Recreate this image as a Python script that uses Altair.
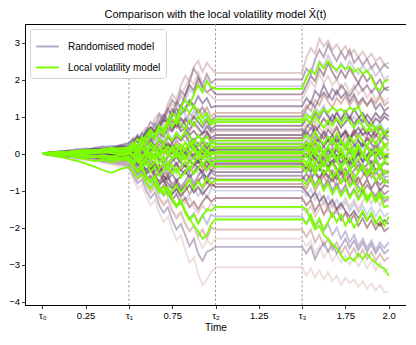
import altair as alt
import pandas as pd

# time grids (years)
T_A = [0.0, 0.05, 0.1, 0.15, 0.2, 0.25, 0.3, 0.35, 0.4, 0.45, 0.5]
T_B = [0.525, 0.55, 0.575, 0.6, 0.625, 0.65, 0.675, 0.7, 0.725, 0.75,
       0.775, 0.8, 0.825, 0.85, 0.875, 0.9, 0.925, 0.95, 0.975, 1.0]
T_FROZEN = 1.5
T_C = [1.525, 1.55, 1.575, 1.6, 1.625, 1.65, 1.675, 1.7, 1.725, 1.75,
       1.775, 1.8, 1.825, 1.85, 1.875, 1.9, 1.925, 1.95, 1.975, 2.0]
TAU = [0.5, 1.0, 1.5]
X_TICKS = [0, 0.25, 0.5, 0.75, 1.0, 1.25, 1.5, 1.75, 2.0]
Y_TICKS = [-4, -3, -2, -1, 0, 1, 2, 3]

# randomised model paths: (0..0.5, 0.5..1.0, 1.5..2.0); frozen on [1.0, 1.5]
r01 = ([0, 0.04, 0.02, 0.08, 0.06, 0.12, 0.1, 0.16, 0.2, 0.18, 0.26],
       [0.42, 0.3, 0.55, 0.7, 0.62, 0.95, 1.1, 0.98, 1.35, 1.6, 1.45, 1.85, 2.1, 1.95, 2.35, 2.5, 2.2, 2.45, 2.3, 2.18],
       [2.6, 2.85, 2.7, 3.1, 2.9, 3.05, 2.8, 2.95, 2.75, 2.9, 2.65, 2.8, 2.6, 2.75, 2.55, 2.7, 2.5, 2.6, 2.4, 2.45])
r02 = ([0, -0.02, 0.03, 0.01, 0.07, 0.05, 0.11, 0.09, 0.15, 0.22, 0.19],
       [0.35, 0.5, 0.38, 0.62, 0.85, 0.74, 1.05, 0.9, 1.2, 1.45, 1.3, 1.7, 1.55, 1.95, 2.3, 2.1, 1.85, 2.15, 1.9, 2.0],
       [2.3, 2.15, 2.55, 2.8, 2.6, 2.95, 2.7, 2.5, 2.75, 2.55, 2.8, 2.45, 2.6, 2.4, 2.55, 2.3, 2.45, 2.25, 2.4, 2.3])
r03 = ([0, 0.03, 0.0, 0.05, 0.02, 0.08, 0.04, 0.1, 0.07, 0.13, 0.1],
       [0.25, 0.15, 0.4, 0.3, 0.55, 0.75, 0.6, 0.9, 1.15, 1.0, 1.3, 1.55, 1.4, 1.75, 1.6, 1.95, 1.7, 2.0, 1.75, 1.82],
       [2.05, 2.3, 2.15, 2.5, 2.35, 2.65, 2.4, 2.2, 2.45, 2.25, 2.5, 2.3, 2.15, 2.4, 2.2, 2.35, 2.1, 2.25, 2.0, 2.1])
r04 = ([0, 0.02, 0.06, 0.04, 0.09, 0.13, 0.1, 0.15, 0.12, 0.18, 0.22],
       [0.3, 0.48, 0.35, 0.6, 0.5, 0.8, 0.65, 0.95, 1.2, 1.05, 1.4, 1.25, 1.6, 1.85, 1.7, 2.05, 1.8, 1.65, 1.75, 1.6],
       [1.85, 2.1, 1.95, 2.3, 2.1, 2.45, 2.2, 2.0, 2.25, 2.05, 2.3, 2.1, 1.9, 2.15, 1.95, 2.1, 1.85, 2.0, 1.75, 1.8])
r05 = ([0, -0.03, 0.01, -0.02, 0.04, 0.0, 0.06, 0.03, 0.08, 0.05, 0.12],
       [0.2, 0.1, 0.35, 0.5, 0.4, 0.7, 0.95, 0.8, 1.1, 1.35, 1.2, 1.55, 1.8, 2.05, 1.85, 2.2, 1.9, 1.65, 1.55, 1.45],
       [1.7, 1.95, 1.8, 2.15, 1.9, 2.1, 1.85, 2.0, 1.75, 1.9, 1.65, 1.85, 1.6, 1.75, 1.5, 1.7, 1.45, 1.6, 1.4, 1.5])
r06 = ([0, 0.05, 0.03, 0.08, 0.12, 0.09, 0.15, 0.19, 0.16, 0.23, 0.28],
       [0.4, 0.3, 0.55, 0.45, 0.7, 0.6, 0.85, 1.05, 0.9, 1.2, 1.05, 1.3, 1.15, 1.45, 1.3, 1.55, 1.35, 1.5, 1.25, 1.28],
       [1.5, 1.35, 1.7, 1.55, 1.85, 1.6, 1.45, 1.7, 1.5, 1.65, 1.4, 1.6, 1.35, 1.5, 1.3, 1.45, 1.2, 1.35, 1.15, 1.25])
r07 = ([0, -0.01, -0.04, 0.0, -0.03, 0.02, -0.01, 0.04, 0.01, 0.06, 0.03],
       [0.15, 0.05, 0.25, 0.4, 0.3, 0.5, 0.4, 0.65, 0.55, 0.8, 0.7, 0.95, 0.85, 1.1, 0.95, 1.2, 1.05, 1.25, 1.0, 1.1],
       [1.3, 1.15, 1.45, 1.3, 1.6, 1.4, 1.25, 1.5, 1.35, 1.55, 1.3, 1.5, 1.25, 1.45, 1.3, 1.5, 1.35, 1.55, 1.3, 1.4])
r08 = ([0, 0.03, 0.07, 0.05, 0.1, 0.14, 0.11, 0.17, 0.21, 0.18, 0.24],
       [0.35, 0.5, 0.4, 0.65, 0.55, 0.8, 0.7, 0.95, 0.8, 1.1, 0.95, 1.2, 1.05, 0.9, 1.15, 1.0, 0.85, 1.0, 0.8, 0.9],
       [1.1, 0.95, 1.25, 1.1, 1.3, 1.05, 0.9, 1.15, 0.95, 1.1, 0.85, 1.0, 0.8, 0.95, 0.75, 0.9, 0.7, 0.85, 0.6, 0.7])
r09 = ([0, -0.02, 0.01, 0.04, 0.02, 0.06, 0.03, 0.07, 0.05, 0.09, 0.06],
       [0.12, 0.22, 0.1, 0.3, 0.2, 0.42, 0.55, 0.45, 0.7, 0.6, 0.85, 0.7, 0.95, 0.8, 1.0, 0.85, 0.7, 0.9, 0.65, 0.75],
       [0.95, 0.8, 1.1, 0.95, 1.2, 1.0, 0.85, 1.1, 0.9, 1.15, 0.95, 1.2, 1.0, 0.85, 1.05, 0.9, 1.1, 0.95, 1.1, 1.0])
r10 = ([0, 0.04, 0.01, 0.06, 0.03, 0.08, 0.12, 0.09, 0.14, 0.11, 0.16],
       [0.25, 0.15, 0.35, 0.25, 0.45, 0.35, 0.55, 0.75, 0.6, 0.85, 0.7, 0.9, 0.75, 0.6, 0.8, 0.65, 0.5, 0.7, 0.55, 0.6],
       [0.8, 0.65, 0.9, 0.7, 0.55, 0.8, 0.6, 0.75, 0.5, 0.65, 0.45, 0.6, 0.4, 0.55, 0.35, 0.5, 0.3, 0.45, 0.25, 0.3])
r11 = ([0, -0.03, -0.01, -0.05, -0.02, -0.06, -0.03, -0.07, -0.04, -0.01, -0.05],
       [0.05, -0.05, 0.15, 0.05, 0.25, 0.15, 0.35, 0.2, 0.45, 0.3, 0.55, 0.4, 0.6, 0.45, 0.3, 0.5, 0.35, 0.55, 0.35, 0.42],
       [0.6, 0.45, 0.75, 0.55, 0.4, 0.65, 0.5, 0.7, 0.45, 0.6, 0.4, 0.65, 0.5, 0.7, 0.5, 0.65, 0.45, 0.7, 0.5, 0.6])
r12 = ([0, 0.02, 0.05, 0.03, 0.07, 0.04, 0.09, 0.06, 0.1, 0.08, 0.13],
       [0.2, 0.1, 0.3, 0.18, 0.4, 0.25, 0.5, 0.35, 0.55, 0.4, 0.6, 0.45, 0.3, 0.5, 0.35, 0.2, 0.4, 0.25, 0.38, 0.3],
       [0.45, 0.3, 0.55, 0.35, 0.2, 0.4, 0.25, 0.45, 0.2, 0.35, 0.1, 0.3, 0.05, 0.2, -0.05, 0.15, -0.1, 0.05, -0.15, -0.1])
r13 = ([0, -0.01, 0.02, -0.02, 0.01, 0.04, 0.0, 0.03, -0.01, 0.02, 0.0],
       [0.08, -0.05, 0.1, 0.0, 0.18, 0.05, 0.25, 0.1, 0.3, 0.15, 0.35, 0.2, 0.05, 0.25, 0.1, 0.3, 0.12, 0.28, 0.1, 0.18],
       [0.35, 0.2, 0.45, 0.3, 0.55, 0.35, 0.2, 0.4, 0.25, 0.5, 0.3, 0.55, 0.35, 0.2, 0.45, 0.3, 0.55, 0.35, 0.5, 0.45])
r14 = ([0, 0.03, 0.0, 0.04, 0.08, 0.05, 0.1, 0.06, 0.11, 0.07, 0.1],
       [0.0, 0.12, -0.02, 0.15, 0.02, 0.2, 0.05, 0.22, 0.08, 0.25, 0.1, -0.05, 0.12, -0.02, 0.18, 0.0, 0.15, -0.05, 0.1, 0.08],
       [0.25, 0.1, 0.3, 0.05, 0.2, -0.05, 0.15, -0.1, 0.1, -0.15, 0.05, -0.2, 0.0, -0.25, -0.05, -0.3, -0.1, -0.35, -0.2, -0.3])
r15 = ([0, -0.02, -0.05, -0.03, -0.07, -0.04, -0.08, -0.05, -0.1, -0.07, -0.12],
       [-0.02, -0.15, 0.0, -0.12, 0.05, -0.1, 0.08, -0.05, 0.12, -0.02, 0.1, -0.08, 0.05, -0.12, 0.02, -0.15, 0.0, -0.1, 0.02, -0.05],
       [0.1, -0.05, 0.2, 0.0, -0.15, 0.1, -0.05, 0.2, 0.0, 0.25, 0.05, -0.1, 0.15, -0.05, 0.25, 0.05, 0.3, 0.1, 0.25, 0.2])
r16 = ([0, 0.01, -0.02, 0.02, -0.01, 0.03, 0.0, 0.04, 0.01, 0.05, 0.02],
       [-0.08, 0.05, -0.1, 0.0, -0.15, -0.05, -0.2, -0.08, -0.25, -0.1, -0.3, -0.15, -0.02, -0.2, -0.05, -0.25, -0.1, -0.22, -0.1, -0.15],
       [-0.05, -0.2, 0.0, -0.15, -0.3, -0.1, -0.25, -0.05, -0.3, -0.15, -0.4, -0.2, -0.45, -0.3, -0.5, -0.35, -0.55, -0.4, -0.65, -0.6])
r17 = ([0, -0.03, -0.01, -0.05, -0.08, -0.06, -0.1, -0.13, -0.1, -0.15, -0.18],
       [-0.3, -0.15, -0.35, -0.2, -0.45, -0.3, -0.5, -0.35, -0.55, -0.4, -0.25, -0.45, -0.3, -0.5, -0.35, -0.2, -0.38, -0.22, -0.35, -0.28],
       [-0.4, -0.25, -0.5, -0.35, -0.6, -0.4, -0.55, -0.7, -0.5, -0.75, -0.6, -0.8, -0.65, -0.9, -0.7, -0.95, -0.75, -1.0, -0.85, -0.9])
r18 = ([0, 0.02, 0.0, -0.03, 0.01, -0.02, -0.05, -0.02, -0.06, -0.03, -0.07],
       [-0.2, -0.08, -0.28, -0.15, -0.35, -0.2, -0.45, -0.3, -0.55, -0.35, -0.6, -0.4, -0.25, -0.5, -0.3, -0.55, -0.35, -0.5, -0.3, -0.42],
       [-0.3, -0.45, -0.2, -0.35, -0.15, -0.3, -0.05, -0.25, -0.1, 0.05, -0.15, 0.0, -0.2, 0.05, -0.1, 0.15, -0.05, 0.2, 0.0, 0.1])
r19 = ([0, -0.04, -0.02, -0.07, -0.05, -0.1, -0.14, -0.11, -0.17, -0.21, -0.19],
       [-0.3, -0.45, -0.35, -0.55, -0.4, -0.65, -0.5, -0.75, -0.6, -0.85, -0.7, -0.9, -0.75, -0.55, -0.8, -0.6, -0.45, -0.7, -0.5, -0.6],
       [-0.75, -0.55, -0.85, -0.65, -0.9, -0.7, -1.0, -0.8, -1.05, -0.85, -1.15, -0.95, -1.2, -1.0, -1.25, -1.05, -1.3, -1.1, -1.3, -1.2])
r20 = ([0, 0.03, 0.01, 0.05, 0.02, -0.01, 0.03, 0.0, -0.04, -0.01, -0.05],
       [-0.15, -0.3, -0.2, -0.45, -0.35, -0.6, -0.5, -0.75, -0.6, -0.9, -0.75, -1.0, -0.85, -1.1, -0.9, -0.7, -0.95, -0.75, -0.9, -0.82],
       [-0.95, -0.7, -1.0, -0.8, -0.6, -0.85, -0.65, -0.9, -0.7, -0.5, -0.75, -0.55, -0.8, -0.6, -0.4, -0.65, -0.45, -0.7, -0.45, -0.5])
r21 = ([0, -0.02, -0.05, -0.03, -0.08, -0.12, -0.09, -0.14, -0.18, -0.15, -0.2],
       [-0.35, -0.25, -0.5, -0.4, -0.65, -0.55, -0.8, -0.7, -0.95, -0.8, -1.1, -0.95, -1.25, -1.1, -0.9, -1.15, -0.95, -1.2, -0.95, -1.0],
       [-1.15, -0.95, -1.25, -1.05, -1.35, -1.15, -1.45, -1.25, -1.5, -1.3, -1.55, -1.35, -1.6, -1.4, -1.65, -1.45, -1.7, -1.5, -1.7, -1.6])
r22 = ([0, -0.03, -0.07, -0.05, -0.1, -0.14, -0.12, -0.18, -0.22, -0.19, -0.25],
       [-0.4, -0.55, -0.45, -0.7, -0.6, -0.85, -1.0, -0.85, -1.1, -1.25, -1.1, -1.35, -1.2, -1.45, -1.3, -1.5, -1.3, -1.15, -1.3, -1.2],
       [-1.4, -1.25, -1.55, -1.35, -1.65, -1.45, -1.7, -1.5, -1.8, -1.6, -1.85, -1.65, -1.95, -1.75, -2.0, -1.8, -2.05, -1.85, -2.1, -2.0])
r23 = ([0, 0.02, -0.01, 0.03, 0.0, -0.04, -0.01, -0.05, -0.09, -0.06, -0.1],
       [-0.25, -0.4, -0.3, -0.55, -0.45, -0.7, -0.85, -0.7, -0.95, -1.1, -0.95, -1.2, -1.35, -1.2, -1.45, -1.6, -1.4, -1.55, -1.35, -1.45],
       [-1.6, -1.4, -1.7, -1.5, -1.3, -1.55, -1.35, -1.6, -1.4, -1.2, -1.45, -1.25, -1.5, -1.3, -1.1, -1.35, -1.15, -1.4, -1.2, -1.3])
r24 = ([0, -0.04, -0.02, -0.08, -0.12, -0.1, -0.16, -0.2, -0.17, -0.24, -0.28],
       [-0.45, -0.6, -0.5, -0.75, -0.9, -0.75, -1.0, -1.15, -1.0, -1.3, -1.45, -1.3, -1.55, -1.75, -1.6, -1.85, -1.65, -1.9, -1.65, -1.7],
       [-1.9, -1.7, -2.0, -1.8, -2.1, -1.9, -2.2, -2.0, -2.3, -2.1, -2.4, -2.2, -2.5, -2.3, -2.55, -2.35, -2.6, -2.4, -2.55, -2.4])
r25 = ([0, -0.02, -0.06, -0.1, -0.08, -0.14, -0.18, -0.15, -0.22, -0.26, -0.3],
       [-0.5, -0.7, -0.6, -0.85, -1.05, -0.9, -1.2, -1.4, -1.25, -1.55, -1.75, -1.6, -1.9, -2.1, -1.95, -2.25, -2.05, -2.3, -2.0, -2.05],
       [-2.25, -2.05, -2.4, -2.2, -2.5, -2.3, -2.6, -2.4, -2.7, -2.5, -2.75, -2.55, -2.8, -2.6, -2.85, -2.65, -2.9, -2.7, -2.9, -2.8])
r26 = ([0, -0.03, -0.01, -0.06, -0.04, -0.09, -0.13, -0.1, -0.16, -0.2, -0.25],
       [-0.45, -0.65, -0.55, -0.8, -1.0, -0.85, -1.15, -1.35, -1.2, -1.5, -1.7, -1.55, -1.85, -2.1, -1.95, -2.3, -2.55, -2.35, -2.45, -2.3],
       [-2.5, -2.35, -2.7, -2.5, -2.8, -2.6, -2.9, -2.7, -2.95, -2.75, -3.0, -2.8, -3.05, -2.85, -3.1, -2.9, -3.15, -2.95, -3.2, -3.1])
r27 = ([0, -0.05, -0.03, -0.09, -0.14, -0.11, -0.18, -0.22, -0.26, -0.3, -0.35],
       [-0.6, -0.8, -0.7, -1.0, -1.2, -1.05, -1.4, -1.6, -1.45, -1.8, -2.05, -1.9, -2.2, -2.5, -2.3, -2.7, -2.9, -2.65, -2.6, -2.52],
       [-2.7, -2.5, -2.85, -2.6, -2.4, -2.65, -2.45, -2.7, -2.5, -2.3, -2.55, -2.35, -2.6, -2.4, -2.65, -2.45, -2.7, -2.5, -2.7, -2.6])
r28 = ([0, -0.06, -0.1, -0.08, -0.15, -0.2, -0.17, -0.25, -0.3, -0.36, -0.4],
       [-0.7, -0.95, -0.85, -1.15, -1.4, -1.25, -1.6, -1.85, -1.7, -2.05, -2.35, -2.2, -2.6, -2.95, -2.8, -3.25, -3.55, -3.4, -3.2, -3.07],
       [-3.3, -3.1, -3.35, -3.15, -3.4, -3.2, -3.45, -3.3, -3.55, -3.35, -3.5, -3.4, -3.6, -3.45, -3.65, -3.5, -3.7, -3.55, -3.75, -3.72])
r29 = ([0, 0.02, 0.05, 0.08, 0.06, 0.1, 0.13, 0.11, 0.16, 0.19, 0.17],
       [0.3, 0.45, 0.4, 0.6, 0.7, 0.55, 0.75, 0.9, 0.85, 0.65, 0.8, 0.6, 0.7, 0.5, 0.62, 0.45, 0.55, 0.6, 0.42, 0.5],
       [0.7, 0.85, 0.6, 0.75, 0.95, 0.8, 1.05, 0.9, 0.7, 0.85, 1.0, 0.8, 0.95, 1.1, 0.9, 0.75, 0.95, 0.85, 1.0, 0.9])
r30 = ([0, -0.02, 0.01, 0.03, 0.0, 0.02, 0.05, 0.03, 0.07, 0.04, 0.08],
       [0.15, 0.0, 0.1, 0.25, 0.35, 0.2, 0.4, 0.3, 0.15, 0.3, 0.45, 0.35, 0.5, 0.3, 0.4, 0.2, 0.3, 0.15, 0.3, 0.25],
       [0.1, 0.2, 0.0, -0.1, 0.05, -0.15, -0.05, 0.1, -0.1, -0.25, -0.15, -0.3, -0.2, -0.4, -0.3, -0.2, -0.45, -0.35, -0.55, -0.5])
r31 = ([0, 0.01, 0.03, 0.0, -0.02, 0.01, 0.04, 0.02, 0.0, 0.03, 0.05],
       [-0.05, 0.05, -0.1, 0.0, 0.1, 0.2, 0.05, 0.15, 0.25, 0.1, -0.05, 0.1, 0.0, 0.15, 0.25, 0.1, 0.0, 0.15, 0.05, 0.12],
       [0.25, 0.1, 0.3, 0.4, 0.2, 0.35, 0.5, 0.3, 0.45, 0.6, 0.4, 0.55, 0.7, 0.5, 0.6, 0.45, 0.65, 0.75, 0.55, 0.6])
r32 = ([0, -0.03, -0.01, -0.04, -0.02, 0.01, -0.02, -0.05, -0.03, 0.0, -0.04],
       [0.05, -0.1, 0.0, 0.1, -0.05, -0.15, 0.0, 0.1, -0.05, 0.05, 0.15, 0.0, -0.1, 0.05, -0.05, 0.1, 0.0, -0.1, 0.05, 0.02],
       [-0.1, 0.05, -0.15, -0.3, -0.15, -0.35, -0.2, -0.4, -0.55, -0.4, -0.6, -0.45, -0.3, -0.5, -0.65, -0.5, -0.7, -0.85, -0.7, -0.8])
r33 = ([0, 0.02, 0.04, 0.01, 0.03, 0.0, -0.02, 0.01, -0.01, 0.02, 0.0],
       [-0.1, 0.05, -0.05, -0.2, -0.1, 0.0, -0.15, -0.25, -0.1, 0.05, -0.05, -0.2, -0.1, 0.02, -0.12, -0.25, -0.1, 0.0, -0.15, -0.1],
       [0.0, -0.15, 0.05, 0.15, 0.0, 0.1, -0.05, 0.2, 0.3, 0.15, 0.05, 0.2, 0.35, 0.2, 0.4, 0.25, 0.15, 0.3, 0.45, 0.35])
r34 = ([0, -0.01, -0.03, -0.06, -0.04, -0.07, -0.05, -0.08, -0.11, -0.09, -0.06],
       [-0.15, -0.3, -0.2, -0.05, -0.15, -0.3, -0.4, -0.25, -0.35, -0.2, -0.1, -0.25, -0.35, -0.2, -0.3, -0.15, -0.25, -0.35, -0.2, -0.22],
       [-0.35, -0.2, -0.1, -0.25, -0.05, -0.2, -0.3, -0.15, 0.0, -0.1, -0.25, -0.1, 0.05, -0.05, -0.2, -0.05, 0.05, -0.15, -0.05, -0.1])
r35 = ([0, 0.01, -0.01, 0.02, 0.0, -0.03, -0.01, -0.04, -0.07, -0.05, -0.09],
       [-0.2, -0.35, -0.25, -0.1, -0.25, -0.4, -0.3, -0.5, -0.6, -0.45, -0.3, -0.45, -0.55, -0.4, -0.25, -0.4, -0.5, -0.35, -0.45, -0.35],
       [-0.5, -0.35, -0.55, -0.7, -0.5, -0.65, -0.45, -0.6, -0.8, -0.65, -0.85, -0.7, -0.9, -1.05, -0.85, -1.0, -1.15, -0.95, -1.1, -1.0])
r36 = ([0, -0.04, -0.02, -0.05, -0.03, -0.06, -0.1, -0.07, -0.04, -0.08, -0.12],
       [-0.25, -0.1, -0.3, -0.45, -0.3, -0.5, -0.35, -0.6, -0.7, -0.55, -0.75, -0.6, -0.45, -0.65, -0.5, -0.35, -0.55, -0.65, -0.45, -0.5],
       [-0.35, -0.5, -0.3, -0.45, -0.25, -0.4, -0.2, -0.05, -0.25, -0.1, -0.3, -0.15, 0.0, -0.2, -0.05, 0.1, -0.1, 0.05, -0.1, 0.0])
r37 = ([0, -0.02, -0.05, -0.03, -0.07, -0.1, -0.08, -0.12, -0.09, -0.13, -0.16],
       [-0.3, -0.45, -0.35, -0.55, -0.4, -0.6, -0.75, -0.6, -0.8, -0.95, -0.8, -1.0, -0.85, -0.7, -0.9, -0.75, -0.6, -0.8, -0.65, -0.7],
       [-0.55, -0.7, -0.5, -0.65, -0.45, -0.6, -0.75, -0.55, -0.4, -0.6, -0.45, -0.3, -0.5, -0.35, -0.55, -0.4, -0.2, -0.4, -0.25, -0.3])
r38 = ([0, 0.02, 0.0, 0.04, 0.07, 0.05, 0.09, 0.12, 0.1, 0.14, 0.11],
       [0.25, 0.4, 0.3, 0.5, 0.35, 0.55, 0.7, 0.55, 0.75, 0.9, 0.75, 0.95, 0.8, 0.65, 0.85, 0.7, 0.55, 0.75, 0.6, 0.65],
       [0.5, 0.7, 0.55, 0.4, 0.6, 0.45, 0.3, 0.5, 0.35, 0.2, 0.4, 0.25, 0.1, 0.3, 0.15, 0.0, 0.2, 0.05, -0.1, 0.0])
r39 = ([0, -0.03, -0.06, -0.04, -0.09, -0.07, -0.11, -0.15, -0.12, -0.17, -0.14],
       [-0.3, -0.5, -0.4, -0.6, -0.75, -0.6, -0.85, -0.7, -0.95, -1.1, -0.95, -1.15, -1.0, -0.85, -1.05, -0.9, -1.1, -0.95, -0.8, -0.9],
       [-1.05, -1.2, -1.05, -1.3, -1.15, -1.4, -1.25, -1.5, -1.35, -1.55, -1.7, -1.55, -1.75, -1.6, -1.8, -1.65, -1.85, -1.95, -1.8, -1.9])
r40 = ([0, 0.03, 0.05, 0.02, 0.06, 0.09, 0.07, 0.11, 0.14, 0.12, 0.15],
       [0.3, 0.45, 0.35, 0.55, 0.7, 0.6, 0.8, 0.95, 0.85, 1.05, 1.2, 1.05, 1.25, 1.4, 1.25, 1.1, 1.25, 1.05, 0.9, 1.0],
       [1.2, 1.4, 1.25, 1.5, 1.65, 1.5, 1.75, 1.6, 1.85, 1.7, 1.55, 1.75, 1.9, 1.7, 1.85, 1.65, 1.8, 1.6, 1.75, 1.7])

RAND_PATHS = [r01, r02, r03, r04, r05, r06, r07, r08, r09, r10, r11, r12, r13, r14,
              r15, r16, r17, r18, r19, r20, r21, r22, r23, r24, r25, r26, r27, r28,
              r29, r30, r31, r32, r33, r34, r35, r36, r37, r38, r39, r40]
RAND_COLORS = ["#c9a3a0", "#8c6a8c", "#b7a8cf", "#7a4a66", "#d4b5ae", "#6b4d7e", "#c08576",
               "#a3b0d6", "#5e3b63", "#cfa89c", "#7d3d55", "#b3bdda", "#9a5a62", "#6a5a9e",
               "#c99587", "#8a7fb8", "#6b3350", "#d8c3bd", "#7c5c8c", "#b47668", "#aeb8d8",
               "#8b4a5a", "#d0b0aa", "#9a93c4", "#c4928a", "#dcc9c6", "#8f7aa3", "#e0c8c2",
               "#5a3358", "#6e3f5e", "#4f3366", "#7a4560", "#5e4a80", "#643a55", "#8a5870",
               "#553a6a", "#70405a", "#6a5288", "#5c2f4e", "#7e5a7e"]

# local volatility model paths
g01 = ([0, 0.02, 0.05, 0.03, 0.07, 0.1, 0.08, 0.12, 0.15, 0.13, 0.18],
       [0.3, 0.2, 0.45, 0.35, 0.6, 0.5, 0.75, 0.65, 0.9, 1.1, 0.95, 1.25, 1.45, 1.3, 1.6, 1.85, 1.65, 1.95, 1.8, 1.75],
       [2.05, 2.25, 2.15, 2.45, 2.3, 2.5, 2.35, 2.25, 2.4, 2.28, 2.35, 2.2, 2.3, 2.15, 2.25, 2.05, 1.8, 1.7, 1.95, 2.0])
g02 = ([0, -0.02, 0.01, -0.01, 0.03, 0.0, 0.05, 0.02, 0.06, 0.04, 0.08],
       [0.2, 0.1, 0.35, 0.25, 0.5, 0.4, 0.65, 0.5, 0.8, 0.95, 0.8, 1.1, 1.25, 1.1, 1.3, 1.15, 0.95, 1.1, 0.85, 0.92],
       [1.05, 0.95, 1.15, 1.05, 1.2, 1.1, 1.25, 1.15, 1.2, 1.1, 1.25, 1.15, 1.28, 1.0, 0.8, 0.6, 0.7, 0.5, 0.55, 0.45])
g03 = ([0, 0.03, 0.01, 0.05, 0.08, 0.06, 0.1, 0.07, 0.11, 0.14, 0.12],
       [0.25, 0.4, 0.3, 0.5, 0.65, 0.5, 0.75, 0.6, 0.85, 0.7, 0.95, 0.8, 0.65, 0.9, 0.75, 1.0, 0.8, 0.95, 0.78, 0.85],
       [0.95, 0.8, 1.0, 0.85, 0.7, 0.9, 0.75, 0.95, 0.8, 1.0, 0.85, 0.7, 0.9, 0.75, 0.6, 0.8, 0.65, 0.75, 0.55, 0.65])
g04 = ([0, -0.03, 0.0, 0.03, 0.0, 0.04, 0.01, 0.05, 0.02, 0.0, 0.03],
       [0.15, 0.0, 0.2, 0.05, 0.3, 0.15, 0.4, 0.25, 0.5, 0.35, 0.55, 0.4, 0.6, 0.45, 0.3, 0.5, 0.35, 0.45, 0.3, 0.35],
       [0.5, 0.35, 0.6, 0.4, 0.25, 0.45, 0.3, 0.55, 0.35, 0.2, 0.45, 0.3, 0.5, 0.35, 0.2, 0.4, 0.25, 0.45, 0.2, 0.3])
g05 = ([0, 0.02, 0.04, 0.01, 0.05, 0.03, 0.07, 0.04, 0.08, 0.05, 0.09],
       [-0.05, 0.1, -0.08, 0.05, -0.12, 0.0, 0.15, 0.02, 0.2, 0.05, 0.25, 0.1, 0.3, 0.15, 0.35, 0.2, 0.38, 0.22, 0.3, 0.25],
       [0.1, 0.3, 0.05, 0.25, 0.0, 0.2, 0.4, 0.15, 0.35, 0.1, 0.3, 0.05, 0.25, -0.05, 0.2, 0.0, 0.15, -0.05, 0.2, 0.1])
g06 = ([0, -0.01, -0.04, -0.02, -0.06, -0.03, -0.07, -0.04, -0.08, -0.05, -0.02],
       [0.1, -0.05, 0.15, 0.0, 0.2, 0.05, -0.1, 0.1, -0.05, 0.2, 0.05, 0.25, 0.1, 0.3, 0.15, 0.0, 0.2, 0.05, 0.22, 0.15],
       [0.3, 0.1, 0.35, 0.15, -0.05, 0.2, 0.0, 0.25, 0.05, -0.1, 0.15, -0.05, 0.2, 0.0, -0.15, 0.05, -0.1, 0.1, -0.15, -0.1])
g07 = ([0, 0.03, 0.0, 0.04, 0.07, 0.04, 0.08, 0.05, 0.1, 0.07, 0.11],
       [0.25, 0.1, 0.3, 0.15, -0.05, 0.2, 0.0, 0.25, 0.05, -0.15, 0.1, -0.1, 0.15, -0.05, 0.2, 0.0, -0.12, 0.1, -0.05, 0.05],
       [-0.1, 0.15, -0.05, 0.2, 0.0, -0.2, 0.05, -0.15, 0.15, -0.1, 0.1, -0.15, 0.2, 0.0, -0.2, 0.05, -0.1, 0.15, -0.05, 0.0])
g08 = ([0, -0.02, 0.0, -0.03, -0.06, -0.03, -0.07, -0.1, -0.07, -0.11, -0.08],
       [-0.2, -0.05, -0.25, -0.1, 0.05, -0.15, 0.0, -0.2, -0.05, 0.1, -0.1, 0.05, -0.15, 0.0, 0.12, -0.05, 0.08, -0.08, 0.05, 0.0],
       [0.15, -0.05, 0.1, -0.1, 0.05, -0.15, 0.0, -0.2, -0.05, -0.25, -0.1, -0.3, -0.15, 0.0, -0.2, -0.35, -0.15, -0.4, -0.2, -0.3])
g09 = ([0, 0.01, -0.02, 0.02, -0.01, 0.03, 0.0, 0.04, 0.01, -0.02, 0.02],
       [-0.1, 0.05, -0.15, 0.0, -0.2, -0.05, -0.25, -0.1, -0.3, -0.15, 0.0, -0.2, -0.05, -0.25, -0.1, 0.02, -0.15, -0.02, -0.15, -0.1],
       [-0.25, -0.05, -0.3, -0.1, -0.35, -0.15, 0.0, -0.2, -0.4, -0.2, -0.45, -0.25, -0.5, -0.3, -0.55, -0.35, -0.5, -0.3, -0.55, -0.45])
g10 = ([0, -0.03, -0.01, -0.05, -0.02, -0.06, -0.09, -0.06, -0.1, -0.13, -0.1],
       [-0.25, -0.1, -0.3, -0.15, -0.35, -0.2, -0.4, -0.25, -0.45, -0.3, -0.5, -0.35, -0.2, -0.4, -0.25, -0.1, -0.3, -0.15, -0.28, -0.2],
       [-0.35, -0.2, -0.45, -0.3, -0.55, -0.4, -0.65, -0.5, -0.8, -0.65, -0.9, -0.75, -1.05, -0.9, -1.2, -1.05, -1.3, -1.15, -1.45, -1.4])
g11 = ([0, -0.04, -0.08, -0.05, -0.11, -0.15, -0.2, -0.17, -0.23, -0.18, -0.12],
       [-0.3, -0.15, -0.4, -0.25, -0.5, -0.35, -0.6, -0.45, -0.3, -0.55, -0.4, -0.65, -0.5, -0.35, -0.55, -0.4, -0.25, -0.45, -0.3, -0.35],
       [-0.5, -0.3, -0.55, -0.35, -0.2, -0.45, -0.25, -0.5, -0.3, -0.6, -0.4, -0.7, -0.5, -0.35, -0.6, -0.45, -0.75, -0.55, -0.8, -0.7])
g12 = ([0, -0.04, -0.09, -0.14, -0.2, -0.27, -0.35, -0.45, -0.52, -0.42, -0.36],
       [-0.5, -0.65, -0.55, -0.8, -0.95, -0.8, -1.05, -0.9, -1.15, -1.0, -0.85, -1.05, -0.9, -0.7, -0.95, -0.75, -0.9, -0.65, -0.8, -0.72],
       [-0.85, -0.65, -0.9, -0.7, -1.0, -0.8, -1.1, -0.9, -1.15, -0.95, -1.2, -1.0, -1.25, -1.05, -1.3, -1.1, -1.25, -1.05, -1.2, -1.15])
g13 = ([0, -0.02, -0.05, -0.03, -0.07, -0.1, -0.08, -0.13, -0.16, -0.14, -0.2],
       [-0.35, -0.5, -0.4, -0.65, -0.8, -0.65, -0.95, -1.1, -0.95, -1.25, -1.45, -1.3, -1.6, -1.8, -1.65, -1.9, -1.7, -1.5, -1.55, -1.44],
       [-1.5, -1.8, -2.05, -1.95, -2.2, -2.3, -2.45, -2.55, -2.75, -2.9, -2.8, -2.9, -2.7, -2.85, -2.7, -2.85, -2.95, -3.05, -3.1, -3.3])
g14 = ([0, 0.02, -0.01, -0.04, -0.02, -0.06, -0.1, -0.07, -0.12, -0.16, -0.14],
       [-0.3, -0.45, -0.35, -0.6, -0.75, -0.6, -0.9, -1.05, -0.9, -1.2, -1.4, -1.25, -1.55, -1.75, -1.95, -2.1, -2.3, -2.2, -1.9, -1.78],
       [-1.9, -1.65, -1.95, -1.75, -2.05, -1.85, -1.6, -1.85, -1.65, -1.95, -1.75, -2.0, -1.8, -1.55, -1.8, -1.6, -1.9, -1.7, -1.95, -1.7])

LV_PATHS = [g01, g02, g03, g04, g05, g06, g07, g08, g09, g10, g11, g12, g13, g14]

LEGEND_LABELS = ["Randomised model", "Local volatility model"]
LEGEND_COLORS = ["#b9a7cc", "#7CFC00"]


def path_rows(name, path, extra):
    a, b, c = path
    assert len(a) == len(T_A) and len(b) == len(T_B) and len(c) == len(T_C), name
    times = T_A + T_B + [T_FROZEN] + T_C
    vals = a + b + [b[-1]] + c
    return [dict(path=name, t=t, v=v, **extra) for t, v in zip(times, vals)]


rand_rows = []
for i, (p, col) in enumerate(zip(RAND_PATHS, RAND_COLORS)):
    rand_rows += path_rows(f"r{i:02d}", p, {"col": col})
lv_rows = []
for i, p in enumerate(LV_PATHS):
    lv_rows += path_rows(f"g{i:02d}", p, {})

df_r = pd.DataFrame(rand_rows)
df_g = pd.DataFrame(lv_rows)
df_tau = pd.DataFrame({"t": TAU})
df_leg = pd.DataFrame({"model": LEGEND_LABELS, "t": [0.0, 0.0], "v": [0.0, 0.0]})

FONT = "Liberation Sans"

x_label_expr = ("datum.value == 0 ? 'τ₀' : datum.value == 0.5 ? 'τ₁' : datum.value == 1 ? 'τ₂' : "
                "datum.value == 1.5 ? 'τ₃' : datum.value == 2 ? '2.0' : format(datum.value, '.2f')")

x_enc = alt.X("t:Q", scale=alt.Scale(domain=[-0.1, 2.1], nice=False, zero=False),
              axis=alt.Axis(values=X_TICKS, labelExpr=x_label_expr, title="Time"))
y_enc = alt.Y("v:Q", scale=alt.Scale(domain=[-4.09, 3.5], nice=False, zero=False),
              axis=alt.Axis(values=Y_TICKS, labelExpr="replace(datum.label, '-', '−')", title=None))

rules = alt.Chart(df_tau).mark_rule(color="#8a8a8a", strokeWidth=0.8, strokeDash=[2.5, 2]).encode(x="t:Q")

rand = alt.Chart(df_r).mark_line(strokeWidth=1.9, opacity=0.58, clip=True).encode(
    x=x_enc, y=y_enc, detail="path:N", color=alt.Color("col:N", scale=None))

lv = alt.Chart(df_g).mark_line(strokeWidth=1.8, color="#7CFC00", clip=True).encode(
    x=x_enc, y=y_enc, detail="path:N")

leg = alt.Chart(df_leg).mark_line(opacity=0).encode(
    x=x_enc, y=y_enc,
    color=alt.Color("model:N", scale=alt.Scale(domain=LEGEND_LABELS, range=LEGEND_COLORS),
                    legend=alt.Legend(title=None, orient="top-left", offset=5, symbolType="stroke",
                                      symbolOpacity=1, symbolStrokeWidth=2, symbolSize=520,
                                      labelFontSize=10, labelFont=FONT, fillColor="white",
                                      strokeColor="#d0d0d0", cornerRadius=3, padding=5,
                                      rowPadding=3, labelOffset=8)))

chart = alt.layer(rules, rand, lv, leg).resolve_scale(color="independent").properties(
    width=381, height=281,
    title=alt.Title("Comparison with the local volatility model X̄(t)", fontSize=11, font=FONT,
                    fontWeight="normal", offset=4),
    padding={"left": 0, "top": 0, "right": 0, "bottom": 0},
).configure_view(stroke="black", strokeWidth=1).configure_axis(
    grid=False, domainColor="black", tickColor="black", labelColor="black",
    tickSize=3.5, labelFontSize=9.5, labelFont=FONT, titleFont=FONT, titleFontSize=10,
    titleFontWeight="normal", titleColor="black", labelPadding=2, titlePadding=2,
    domainWidth=1, tickWidth=0.8
)

chart.save("out.html", embed_options={"renderer": "svg", "actions": False})
